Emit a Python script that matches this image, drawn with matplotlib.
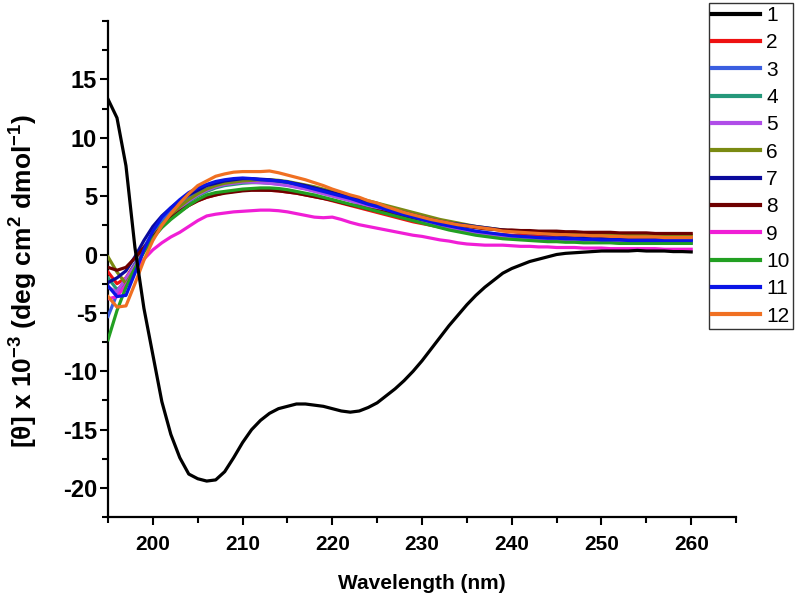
import matplotlib
matplotlib.use('Agg')
from matplotlib import pyplot as plt
from matplotlib.ticker import MultipleLocator
import numpy as np

plt.rcParams['mathtext.default'] = 'regular'
plt.rcParams['axes.unicode_minus'] = False

wavelength = np.arange(195, 261)

# CD spectra, [theta] x 10^-3, one value per nm from 195 to 260
s1 = [13.3, 11.7, 7.6, 0.6, -4.6, -8.6, -12.6, -15.4, -17.4, -18.8,
      -19.2, -19.4, -19.3, -18.6, -17.4, -16.1, -15.0, -14.2, -13.6, -13.2,
      -13.0, -12.8, -12.8, -12.9, -13.0, -13.2, -13.4, -13.5, -13.4, -13.1,
      -12.7, -12.1, -11.5, -10.8, -10.0, -9.1, -8.1, -7.1, -6.1, -5.2,
      -4.3, -3.5, -2.8, -2.2, -1.6, -1.2, -0.9, -0.6, -0.4, -0.2,
      0.0, 0.1, 0.15, 0.2, 0.25, 0.3, 0.3, 0.3, 0.3, 0.35,
      0.3, 0.3, 0.3, 0.25, 0.25, 0.22]
s2 = [-1.5, -2.5, -2.0, -0.8, 0.4, 1.5, 2.4, 3.1, 3.7, 4.2,
      4.6, 4.9, 5.1, 5.3, 5.4, 5.5, 5.55, 5.55, 5.5, 5.45,
      5.35, 5.25, 5.1, 4.95, 4.8, 4.6, 4.4, 4.2, 4.0, 3.8,
      3.6, 3.4, 3.2, 3.0, 2.8, 2.65, 2.5, 2.35, 2.2, 2.1,
      2.0, 1.9, 1.8, 1.75, 1.7, 1.65, 1.65, 1.6, 1.6, 1.6,
      1.55, 1.55, 1.55, 1.5, 1.5, 1.5, 1.5, 1.5, 1.5, 1.5,
      1.5, 1.5, 1.5, 1.5, 1.5, 1.5]
s3 = [-5.3, -3.4, -2.2, -0.8, 0.6, 1.9, 2.9, 3.7, 4.3, 4.8,
      5.3, 5.6, 5.9, 6.1, 6.2, 6.3, 6.3, 6.3, 6.25, 6.15,
      6.05, 5.9, 5.75, 5.55, 5.35, 5.15, 4.95, 4.75, 4.5, 4.3,
      4.05, 3.8, 3.55, 3.35, 3.15, 2.95, 2.75, 2.55, 2.4, 2.25,
      2.1, 1.95, 1.8, 1.7, 1.6, 1.5, 1.45, 1.4, 1.35, 1.3,
      1.25, 1.2, 1.2, 1.15, 1.1, 1.1, 1.05, 1.05, 1.05, 1.0,
      1.0, 1.0, 1.0, 1.0, 1.0, 1.0]
s4 = [-2.0, -3.0, -2.4, -1.0, 0.4, 1.6, 2.6, 3.4, 4.0, 4.5,
      5.0, 5.4, 5.7, 5.9, 6.0, 6.1, 6.15, 6.15, 6.1, 6.05,
      5.95, 5.8, 5.65, 5.45, 5.25, 5.05, 4.85, 4.65, 4.4, 4.2,
      3.95, 3.7, 3.5, 3.3, 3.1, 2.9, 2.7, 2.5, 2.35, 2.2,
      2.05, 1.9, 1.8, 1.65, 1.55, 1.45, 1.4, 1.35, 1.3, 1.3,
      1.25, 1.25, 1.2, 1.2, 1.2, 1.15, 1.15, 1.15, 1.1, 1.1,
      1.1, 1.1, 1.1, 1.1, 1.1, 1.1]
s5 = [-2.8, -3.2, -2.0, -1.0, 0.3, 1.5, 2.5, 3.3, 4.0, 4.6,
      5.1, 5.5, 5.8, 6.0, 6.1, 6.2, 6.2, 6.15, 6.1, 6.0,
      5.9, 5.75, 5.6, 5.4, 5.2, 5.0, 4.8, 4.6, 4.35, 4.15,
      3.9, 3.65, 3.4, 3.2, 3.0, 2.8, 2.6, 2.4, 2.25, 2.1,
      1.95, 1.8, 1.7, 1.6, 1.5, 1.4, 1.35, 1.3, 1.25, 1.2,
      1.15, 1.15, 1.1, 1.1, 1.05, 1.05, 1.05, 1.0, 1.0, 1.0,
      1.0, 1.0, 1.0, 1.0, 1.0, 1.0]
s6 = [-0.2, -1.5, -2.5, -1.2, 0.3, 1.5, 2.5, 3.4, 4.1, 4.7,
      5.2, 5.6, 5.9, 6.1, 6.2, 6.3, 6.35, 6.4, 6.4, 6.35,
      6.25, 6.1, 5.95, 5.8, 5.6, 5.4, 5.2, 5.0, 4.8, 4.6,
      4.4, 4.2, 4.0, 3.8, 3.6, 3.4, 3.2, 3.0, 2.85, 2.7,
      2.55, 2.4, 2.3, 2.2, 2.1, 2.0, 1.95, 1.9, 1.85, 1.85,
      1.8, 1.8, 1.75, 1.75, 1.7, 1.7, 1.7, 1.7, 1.65, 1.65,
      1.65, 1.65, 1.65, 1.65, 1.65, 1.65]
s7 = [-2.4, -2.0, -1.4, -0.2, 1.2, 2.4, 3.3, 4.0, 4.6, 5.1,
      5.5, 5.9, 6.1, 6.3, 6.4, 6.5, 6.5, 6.45, 6.4, 6.3,
      6.2, 6.05, 5.9, 5.7, 5.5, 5.3, 5.1, 4.9, 4.7, 4.5,
      4.3, 4.05, 3.8, 3.6, 3.4, 3.2, 3.0, 2.85, 2.7, 2.6,
      2.5, 2.4, 2.3, 2.2, 2.1, 2.0, 1.9, 1.85, 1.8, 1.7,
      1.65, 1.6, 1.55, 1.5, 1.5, 1.45, 1.45, 1.4, 1.4, 1.35,
      1.35, 1.35, 1.3, 1.3, 1.3, 1.3]
s8 = [-1.1, -1.35, -1.1, -0.3, 0.6, 1.5, 2.4, 3.1, 3.7, 4.2,
      4.6, 4.9, 5.1, 5.25, 5.35, 5.45, 5.5, 5.5, 5.5, 5.45,
      5.35, 5.25, 5.1, 4.95, 4.8, 4.65, 4.45, 4.25, 4.1, 3.9,
      3.75, 3.6, 3.45, 3.3, 3.15, 3.0, 2.85, 2.7, 2.6, 2.5,
      2.4, 2.3, 2.2, 2.15, 2.1, 2.1, 2.05, 2.05, 2.0, 2.0,
      2.0, 1.95, 1.95, 1.9, 1.9, 1.9, 1.9, 1.85, 1.85, 1.85,
      1.85, 1.8, 1.8, 1.8, 1.8, 1.8]
s9 = [-3.8, -3.6, -2.6, -1.4, -0.4, 0.4, 1.0, 1.5, 1.9, 2.4,
      2.9, 3.3, 3.45, 3.55, 3.65, 3.7, 3.75, 3.8, 3.8, 3.75,
      3.65, 3.5, 3.35, 3.2, 3.15, 3.2, 3.0, 2.75, 2.55, 2.4,
      2.25, 2.1, 1.95, 1.8, 1.65, 1.55, 1.4, 1.25, 1.15, 1.0,
      0.9, 0.85, 0.8, 0.8, 0.8, 0.75, 0.7, 0.7, 0.65, 0.65,
      0.6, 0.6, 0.6, 0.55, 0.55, 0.55, 0.5, 0.5, 0.5, 0.5,
      0.5, 0.5, 0.45, 0.45, 0.45, 0.45]
s10 = [-7.3, -4.8, -2.8, -1.2, 0.2, 1.4, 2.3, 3.0, 3.6, 4.2,
       4.7, 5.1, 5.3, 5.4, 5.5, 5.6, 5.65, 5.7, 5.7, 5.65,
       5.55, 5.4, 5.25, 5.1, 4.9, 4.7, 4.5, 4.3, 4.1, 3.9,
       3.7, 3.5, 3.3, 3.1, 2.9, 2.7, 2.5, 2.3, 2.1, 1.95,
       1.8, 1.65, 1.55, 1.45, 1.35, 1.3, 1.25, 1.2, 1.15, 1.1,
       1.1, 1.05, 1.05, 1.0, 1.0, 1.0, 1.0, 0.95, 0.95, 0.95,
       0.95, 0.95, 0.95, 0.95, 0.95, 0.95]
s11 = [-2.7, -3.6, -3.5, -1.6, 0.4, 2.0, 3.2, 4.0, 4.7, 5.3,
       5.7, 6.0, 6.25, 6.4, 6.5, 6.55, 6.5, 6.4, 6.35, 6.3,
       6.2, 6.0, 5.8, 5.6, 5.4, 5.2, 5.0, 4.8, 4.55, 4.3,
       4.1, 3.85, 3.6, 3.4, 3.2, 3.0, 2.8, 2.6, 2.45, 2.3,
       2.15, 2.0, 1.9, 1.8, 1.7, 1.6, 1.55, 1.5, 1.45, 1.4,
       1.4, 1.35, 1.35, 1.3, 1.3, 1.25, 1.25, 1.25, 1.2, 1.2,
       1.2, 1.2, 1.2, 1.2, 1.2, 1.2]
s12 = [-3.6, -4.5, -4.4, -2.5, -0.5, 1.2, 2.5, 3.5, 4.4, 5.2,
       5.9, 6.3, 6.7, 6.9, 7.05, 7.1, 7.1, 7.1, 7.15, 7.0,
       6.8, 6.6, 6.4, 6.15, 5.9, 5.6, 5.35, 5.1, 4.9, 4.6,
       4.4, 4.1, 3.85, 3.6, 3.4, 3.2, 3.0, 2.85, 2.7, 2.55,
       2.45, 2.35, 2.25, 2.15, 2.0, 1.95, 1.9, 1.85, 1.8, 1.75,
       1.7, 1.7, 1.65, 1.65, 1.6, 1.6, 1.55, 1.55, 1.5, 1.5,
       1.5, 1.5, 1.45, 1.45, 1.45, 1.45]

series = [s1, s2, s3, s4, s5, s6, s7, s8, s9, s10, s11, s12]
labels = ['1', '2', '3', '4', '5', '6', '7', '8', '9', '10', '11', '12']
colors = ['#000000', '#ee1111', '#3a5ee0', '#25987a', '#b04de8', '#7a8a12',
          '#0a0a9c', '#6e0000', '#f01ed6', '#22a022', '#0a14e6', '#f07022']

fig = plt.figure(figsize=(7.96, 5.98), dpi=100)
ax = fig.add_axes([0.1357, 0.135, 0.789, 0.83])

for i, (vals, lab, col) in enumerate(zip(series, labels, colors)):
    z = 20 if i == 0 else 2 + i
    ax.plot(wavelength, vals, color=col, linewidth=2.3, label=lab, zorder=z)

ax.set_xlim(195, 265)
ax.set_ylim(-22.5, 20)
ax.set_yticks([-20, -15, -10, -5, 0, 5, 10, 15])
ax.xaxis.set_major_locator(MultipleLocator(10))
ax.xaxis.set_minor_locator(MultipleLocator(5))
ax.yaxis.set_minor_locator(MultipleLocator(2.5))

ax.spines['top'].set_visible(False)
ax.spines['right'].set_visible(False)
ax.spines['left'].set_linewidth(1.6)
ax.spines['bottom'].set_linewidth(1.6)
ax.tick_params(which='major', direction='out', length=6, width=1.5)
ax.tick_params(which='minor', direction='out', length=4, width=1.5)
ax.tick_params(axis='y', pad=2)
ax.tick_params(axis='x', pad=7)

tick_font = ['Liberation Sans', 'DejaVu Sans']
for t in ax.get_xticklabels():
    t.set_family(tick_font)
    t.set_fontweight('bold')
    t.set_fontsize(15)
for t in ax.get_yticklabels():
    t.set_family(tick_font)
    t.set_fontweight('bold')
    t.set_fontsize(17)

ax.set_xlabel('Wavelength (nm)', fontsize=15, fontweight='bold',
              family=tick_font, labelpad=14)
fig.text(0.03, 0.53, r'[$\theta$] x 10$^{-3}$ (deg cm$^{2}$ dmol$^{-1}$)',
         rotation=90, ha='center', va='center', fontsize=19,
         fontweight='bold', family=tick_font)

leg = fig.legend(loc='upper right', bbox_to_anchor=(0.996, 0.995),
                 frameon=True, fancybox=False, borderaxespad=0,
                 handlelength=2.3, handletextpad=0.3, labelspacing=0.4,
                 borderpad=0.15, prop={'family': 'Liberation Sans', 'size': 15})
leg.get_frame().set_edgecolor('black')
leg.get_frame().set_linewidth(1.0)
for line in leg.get_lines():
    line.set_linewidth(3)

fig.savefig('out.png', dpi=100)
